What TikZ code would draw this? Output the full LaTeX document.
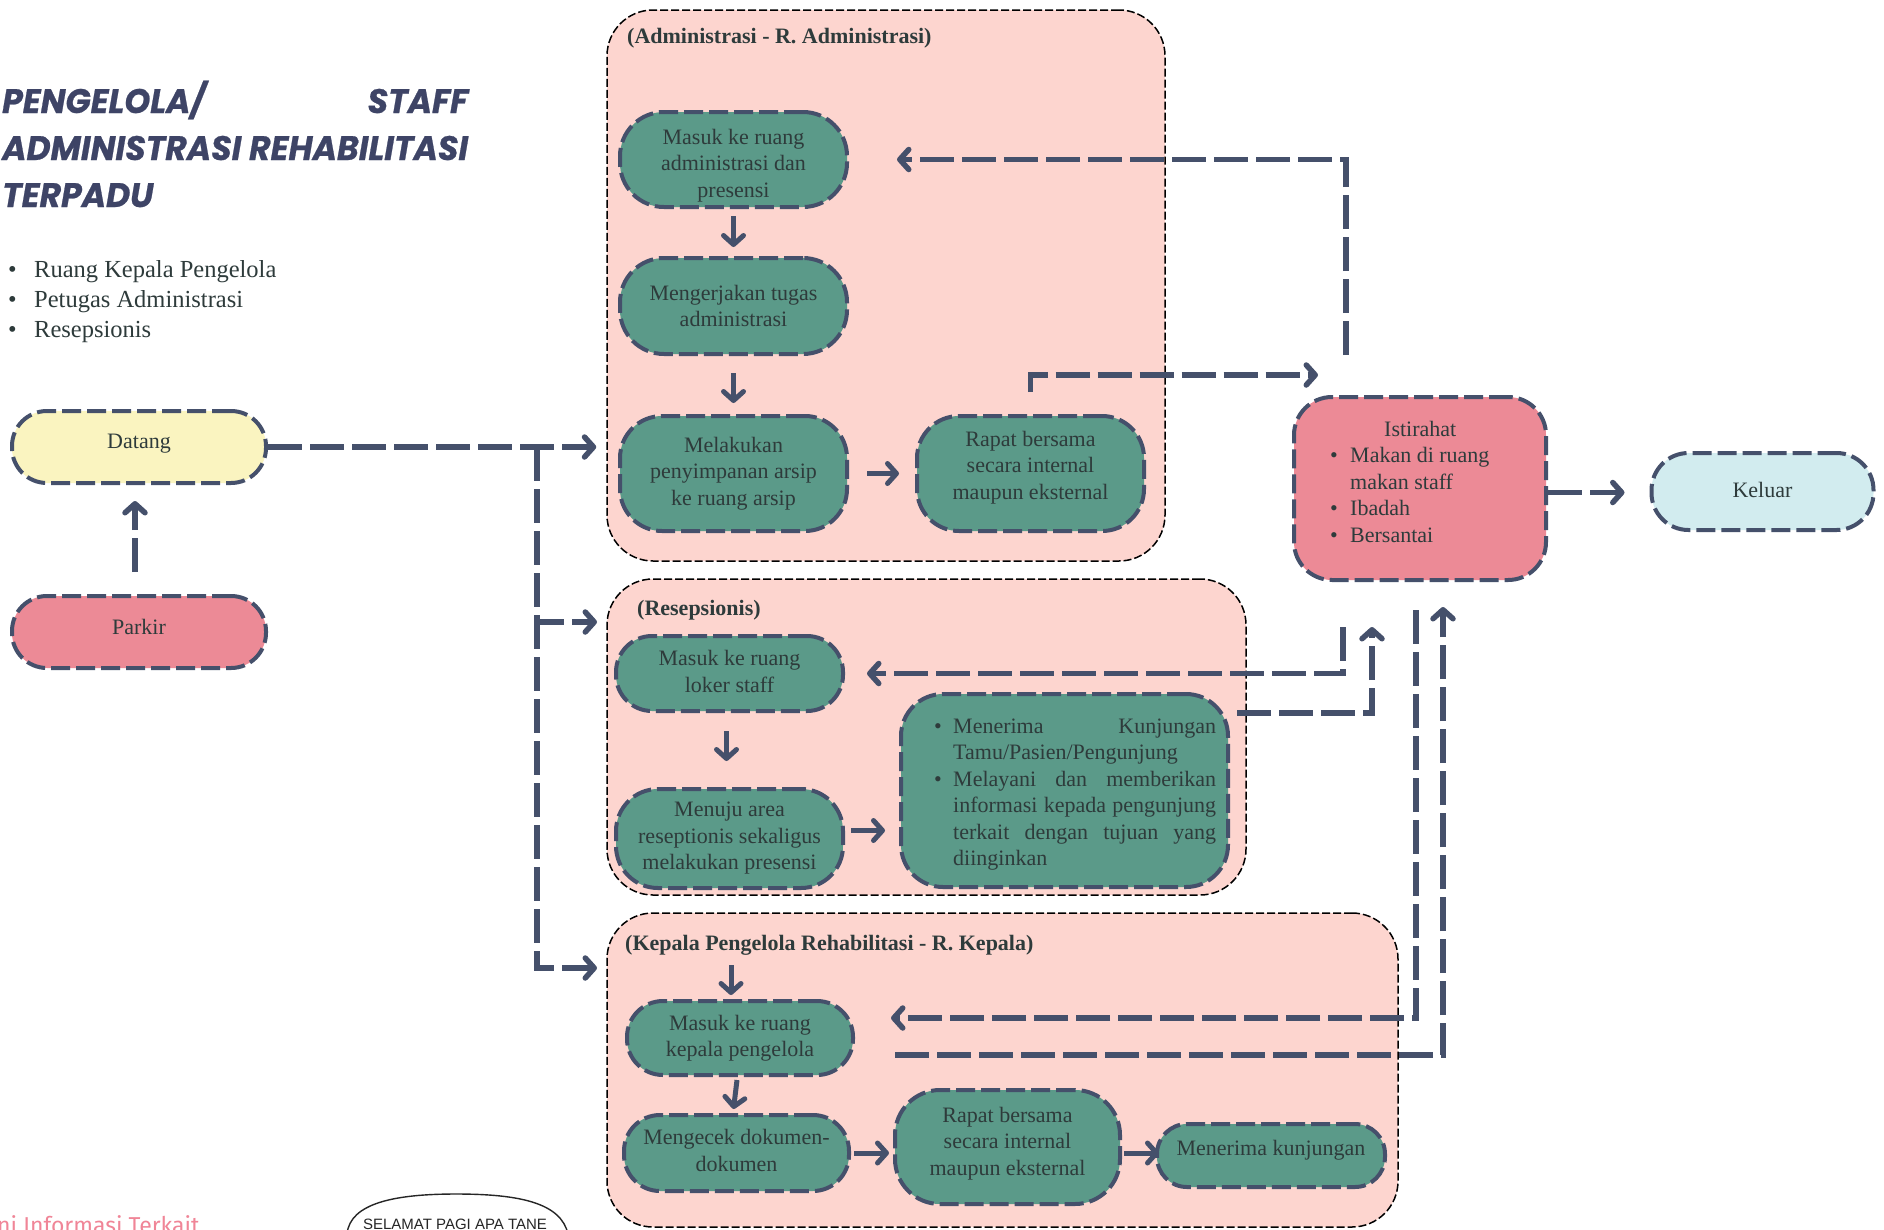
\documentclass[tikz,border=0pt]{standalone}
\usepackage{fontspec}
\usepackage{graphicx}
\setmainfont{Liberation Serif}
\setsansfont{Liberation Sans}
\newfontfamily\titlefont{Poppins}[BoldItalicFeatures={FakeBold=0.7}]
\newfontfamily\handfont{Fira Sans}
\usetikzlibrary{arrows.meta,calc}

\definecolor{ink}{HTML}{2E3B3B}
\definecolor{navy}{HTML}{45506B}
\definecolor{boxgreen}{HTML}{5B9A89}
\definecolor{roomfill}{HTML}{FDD5CF}
\definecolor{datangfill}{HTML}{FAF4C0}
\definecolor{pinkfill}{HTML}{EC8A96}
\definecolor{exitfill}{HTML}{D2ECEF}
\definecolor{titleblue}{HTML}{3E4466}
\definecolor{handpink}{HTML}{F08597}

\newcommand\boxtext{\fontsize{22}{26.5}\selectfont}
\newcommand\titlestyle{\titlefont\bfseries\itshape\fontsize{34}{47}\selectfont}
\newcommand\bul[1]{\makebox[#1][l]{\textbullet}}
% box label moved up (positive) or down (negative) without changing its size
\newcommand\nudge[2]{\raisebox{#1}[\height][\depth]{\parbox{222pt}{\centering #2}}}
\newsavebox\titleline
\newdimen\titlewd

\tikzset{
  room/.style={draw=black, line width=1.5pt, dash pattern=on 8pt off 3pt,
    fill=roomfill, rounded corners=46pt, inner sep=0pt},
  roomtitle/.style={anchor=base west, inner sep=0pt, text=ink,
    font=\boxtext\bfseries},
  flowbox/.style={draw=navy, line width=4pt, dash pattern=on 19pt off 6pt,
    fill=boxgreen, rounded corners=#1, align=center, font=\boxtext,
    text=ink, inner sep=0pt},
  flowbox/.default=40pt,
  conn/.style={draw=navy, line width=5.5pt, dash pattern=on 34pt off 8pt,
    -{Straight Barb[round,length=9pt,width=20pt]}},
  steparrow/.style={draw=navy, line width=5pt,
    -{Straight Barb[round,length=9pt,width=20pt]}},
}

\begin{document}
% the heading is scaled horizontally so that its widest line spans 466pt
\sbox\titleline{\titlestyle ADMINISTRASI REHABILITASI}%
\global\titlewd=\wd\titleline
\pgfmathsetmacro\tsx{466/\the\titlewd}%
\begin{tikzpicture}[x=1pt,y=-1pt]
\useasboundingbox (0,0) rectangle (1884,1229);
\fill[white] (0,0) rectangle (1884,1229);

% ---------- heading and role list ----------
\node[anchor=base west, inner sep=0pt, text=titleblue] (title) at (2,113)
  {\scalebox{\tsx}[1]{\titlestyle\parbox[t]{\titlewd}{%
    \makebox[\titlewd][l]{PENGELOLA/\hfill STAFF}\\
    ADMINISTRASI REHABILITASI\\
    TERPADU}}};

\node[anchor=base west, inner sep=0pt, text=ink] (roles) at (8,277)
  {\parbox[t]{320pt}{\fontsize{24.5}{30}\selectfont
    \bul{26pt}Ruang Kepala Pengelola\\
    \bul{26pt}Petugas Administrasi\\
    \bul{26pt}Resepsionis}};

% ---------- rooms ----------
\node[room, minimum width=558, minimum height=551] (admin) at (886,285.5) {};
\node[room, minimum width=639, minimum height=316] (resep) at (926.5,737) {};
\node[room, minimum width=791, minimum height=314] (kepala) at (1002.5,1070) {};

\node[roomtitle] (admintitle) at (627,43) {(Administrasi - R. Administrasi)};
\node[roomtitle] (reseptitle) at (637,615) {(Resepsionis)};
\node[roomtitle] (kepalatitle) at (625,950) {(Kepala Pengelola Rehabilitasi - R. Kepala)};

% ---------- start / end ----------
\node[flowbox=35pt, fill=datangfill, minimum width=254, minimum height=72]
  (datang) at (139,447) {\nudge{3pt}{Datang}};
\node[flowbox=35pt, fill=pinkfill, minimum width=254, minimum height=72]
  (parkir) at (139,632) {\nudge{5pt}{Parkir}};
\node[flowbox=37pt, fill=exitfill, minimum width=219, minimum height=77]
  (keluar) at (1762.5,491.5) {\nudge{2pt}{Keluar}};
\node[flowbox=38pt, fill=pinkfill, minimum width=252, minimum height=183]
  (rest) at (1420,488.5) {};
\node[anchor=base west, inner sep=0pt, text=ink, font=\boxtext] (resttxt) at (1330,436)
  {\parbox[t]{180pt}{\centering Istirahat\par\raggedright
    \bul{20pt}Makan di ruang\\
    \hspace*{20pt}makan staff\\
    \bul{20pt}Ibadah\\
    \bul{20pt}Bersantai}};

% ---------- administrasi ----------
\node[flowbox=44pt, minimum width=227, minimum height=95] (a1) at (733.5,159.5)
  {\nudge{-6pt}{Masuk ke ruang\\administrasi dan\\presensi}};
\node[flowbox=44pt, minimum width=227, minimum height=96] (a2) at (733.5,306)
  {Mengerjakan tugas\\administrasi};
\node[flowbox=42pt, minimum width=227, minimum height=115] (a3) at (733.5,473.5)
  {Melakukan\\penyimpanan arsip\\ke ruang arsip};
\node[flowbox=42pt, minimum width=227, minimum height=115] (a4) at (1030.5,473.5)
  {\nudge{6pt}{Rapat bersama\\secara internal\\maupun eksternal}};

% ---------- resepsionis ----------
\node[flowbox=36pt, minimum width=227, minimum height=75] (r1) at (729.5,673.5)
  {\nudge{2pt}{Masuk ke ruang\\loker staff}};
\node[flowbox=42pt, minimum width=227, minimum height=99] (r2) at (729.5,838.5)
  {Menuju area\\reseptionis sekaligus\\melakukan presensi};
\node[flowbox=42pt, minimum width=327, minimum height=193] (r3) at (1064.5,790.5) {};
\node[anchor=base west, inner sep=0pt, text=ink, font=\boxtext] (r3txt) at (934,733)
  {\parbox[t]{282pt}{%
    \bul{19pt}Menerima\hfill Kunjungan\\
    \hspace*{19pt}Tamu/Pasien/Pengunjung\\
    \bul{19pt}Melayani\hfill dan\hfill memberikan\\
    \hspace*{19pt}informasi\hfill kepada\hfill pengunjung\\
    \hspace*{19pt}terkait\hfill dengan\hfill tujuan\hfill yang\\
    \hspace*{19pt}diinginkan}};

% ---------- kepala pengelola ----------
\node[flowbox=36pt, minimum width=226, minimum height=74] (k1) at (740,1038)
  {Masuk ke ruang\\kepala pengelola};
\node[flowbox=36pt, minimum width=225, minimum height=76] (k2) at (736.5,1153)
  {\nudge{2.5pt}{Mengecek dokumen-\\dokumen}};
\node[flowbox=45pt, minimum width=225, minimum height=114] (k3) at (1007.5,1147)
  {\nudge{3.5pt}{Rapat bersama\\secara internal\\maupun eksternal}};
\node[flowbox=30pt, minimum width=228, minimum height=63] (k4) at (1271,1155.5)
  {\nudge{5pt}{Menerima kunjungan}};

% ---------- arrows inside the rooms ----------
\draw[steparrow] ([yshift=-7pt]a1.south) -- ([yshift=9pt]a2.north);
\draw[steparrow] ([yshift=-17pt]a2.south) -- ([yshift=11pt]a3.north);
\draw[steparrow] ([xshift=18pt]a3.east) -- ([xshift=-16pt]a4.west);
\draw[steparrow] ([xshift=-3pt,yshift=-18pt]r1.south) -- ([xshift=-3pt,yshift=26pt]r2.north);
\draw[steparrow] ([xshift=6pt,yshift=8pt]r2.east) -- ([xshift=40pt,yshift=8pt]r2.east);
\draw[steparrow] ([xshift=-9pt,yshift=34pt]k1.north) -- ([xshift=-9pt,yshift=4pt]k1.north);
\draw[steparrow] ([xshift=-3pt,yshift=-3pt]k1.south) -- ([xshift=-3pt,yshift=4pt]k2.north);
\draw[steparrow] ([xshift=3pt]k2.east) -- ([xshift=38pt]k2.east);
\draw[steparrow] ([xshift=2pt,yshift=-6pt]k3.east) -- ([xshift=37pt,yshift=-6pt]k3.east);

% ---------- connectors between the stages ----------
\coordinate (split) at (537,447);
\coordinate (resIn) at (597,622);
\coordinate (kepIn) at (597,968);
\draw[conn] ([xshift=-4pt,yshift=22pt]parkir.north) -- ([xshift=-4pt,yshift=-16pt]datang.south);
\draw[conn] (datang.east) -- ([xshift=-10pt]datang.east -| admin.west);
\draw[conn] (split) |- (resIn);
\draw[conn] (split) |- (kepIn);

\coordinate (restTop) at (1346,355);
\coordinate (restAbove) at (1318,375);
\coordinate (restLowA) at (1343,627);
\coordinate (resOut) at (1237,713);
\coordinate (restLowB) at (1372,627);
\coordinate (restLowC) at (1416,610);
\coordinate (restLowD) at (1443,607);
\draw[conn] (restTop) |- ([xshift=48pt]a1.east);
\draw[conn] ([yshift=22pt]a4.north) |- (restAbove);
\draw[conn] (restLowA) |- ([xshift=22pt]r1.east);
\draw[conn] (resOut) -| (restLowB);
\draw[conn] (restLowC) |- ([xshift=36pt,yshift=20pt]k1.east);
\draw[conn] ([xshift=40pt,yshift=-17pt]k1.east) -| (restLowD);
\draw[conn] ([yshift=-4pt]rest.east) -- ([xshift=-25pt,yshift=-4pt]rest.east -| keluar.west);

% ---------- page-edge fragments ----------
\node[anchor=north west, inner sep=0pt, text=handpink,
  font=\handfont\fontsize{23}{26}\selectfont] (note) at (-3,1215) {ni Informasi Terkait};
\draw[black!85, line width=1.4pt] (347,1234) .. controls (350,1203) and (395,1194) .. (456,1194)
  .. controls (520,1194) and (561,1203) .. (568,1234);
\node[anchor=north, inner sep=0pt, text=black!85,
  font=\sffamily\fontsize{15}{17}\selectfont] (bubble) at (455,1219) {SELAMAT PAGI APA TANE};
\end{tikzpicture}
\end{document}
